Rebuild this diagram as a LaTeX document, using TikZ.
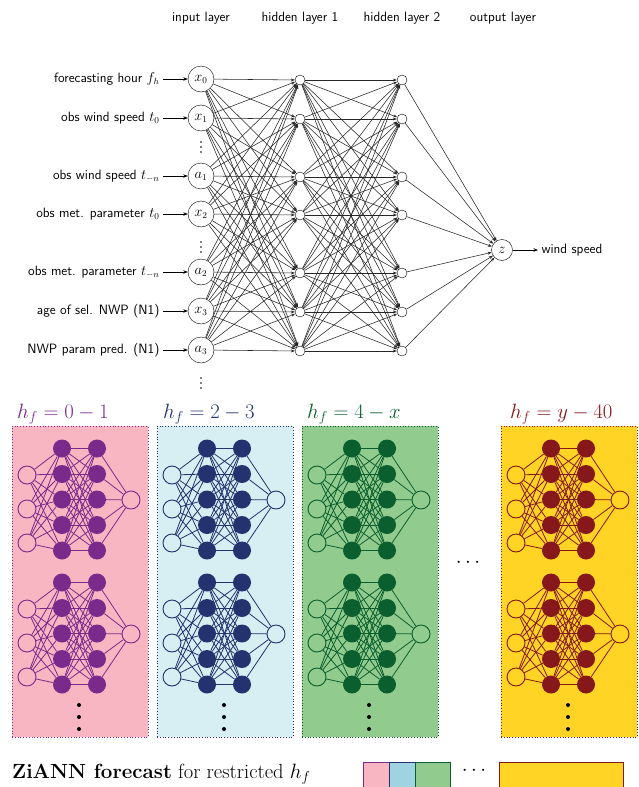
\documentclass[tikz,border=0pt]{standalone}
\usepackage{xcolor}
\usetikzlibrary{arrows.meta, positioning}

\definecolor{pinkbg}{HTML}{F8B6C2}
\definecolor{purplenet}{HTML}{7B2A8C}
\definecolor{bluebg}{HTML}{D7EEF2}
\definecolor{legblue}{HTML}{9FD3E1}
\definecolor{bluenet}{HTML}{24336F}
\definecolor{greenbg}{HTML}{92CB8E}
\definecolor{greennet}{HTML}{0B5F2F}
\definecolor{yellowbg}{HTML}{FFD424}
\definecolor{rednet}{HTML}{86171B}

\begin{document}
\begin{tikzpicture}[
    x=1pt, y=-1pt,
    font=\sffamily\fontsize{13.5}{16}\selectfont,
    inp/.style={draw, circle, minimum size=26pt, inner sep=0pt, fill=white},
    hid/.style={draw, circle, minimum size=10pt, inner sep=0pt, fill=white},
    outp/.style={draw, circle, minimum size=21pt, inner sep=0pt, fill=white},
    arrow/.style={-{Stealth[length=4.5pt, width=3.5pt]}, line width=0.6pt},
    link/.style={-{Stealth[length=4pt, width=3pt]}, line width=0.55pt, black!85},
    area/.style={dotted, line width=0.8pt, minimum width=136pt, minimum height=311pt, inner sep=0pt},
    title/.style={font=\fontsize{22}{26}\selectfont, inner sep=0pt, anchor=base west},
    smallin/.style={draw, circle, minimum size=18pt, inner sep=0pt, line width=0.9pt},
    smallhid/.style={circle, minimum size=18pt, inner sep=0pt},
    slink/.style={line width=0.8pt},
    legbox/.style={line width=1.4pt, anchor=north west, minimum height=26pt, inner sep=0pt}
]
    \useasboundingbox (0,0) rectangle (638,787);

    \node (hl0) at (201,18) {input layer};
    \node (hl1) at (300,18) {hidden layer 1};
    \node (hl2) at (402,18) {hidden layer 2};
    \node (hl3) at (503,18) {output layer};

    \foreach \v/\y/\t [count=\i] in {x_0/79/{forecasting hour $f_h$}, x_1/118/{obs wind speed $t_0$},
        a_1/176/{obs wind speed $t_{-n}$}, x_2/214/{obs met. parameter $t_0$},
        a_2/272/{obs met. parameter $t_{-n}$}, x_3/311/{age of sel. NWP (N1)},
        a_3/350/{NWP param pred. (N1)}} {
        \node[inp] (in\i) at (201,\y) {$\v$};
        \node[anchor=east] (lab\i) at (163,\y) {\t};
        \node[hid] (ha\i) at (300,\y+1) {};
        \node[hid] (hb\i) at (402,\y+1) {};
        \draw[arrow] (lab\i) -- (in\i);
    }
    \foreach \y in {147,247,383}
        \foreach \d in {-5,0,5}
            \fill (201,\y+\d) circle (0.8pt);

    \node[outp] (out) at (502,250) {$z$};
    \node[anchor=west] (ws) at (538,250) {wind speed};
    \draw[arrow] (out) -- (ws);

    \foreach \i in {1,...,7} {
        \foreach \j in {1,...,7} {
            \draw[link] (in\i) -- (ha\j);
            \draw[link] (ha\i) -- (hb\j);
        }
        \draw[link] (hb\i) -- (out);
    }

    \foreach \bx/\tx/\bg/\fg/\lbl [count=\b] in {12/17/pinkbg/purplenet/{0-1}, 157/163/bluebg/bluenet/{2-3},
        302/307/greenbg/greennet/{4-x}, 501/510/yellowbg/rednet/{y-40}} {
        \node[area, fill=\bg, draw=\fg] (box\b) at (\bx+68,581.5) {};
        \node[title, text=\fg] (title\b) at (\tx,418) {$h_f=\lbl$};
        \foreach \off [count=\c] in {0,134} {
            \foreach \k/\y in {1/475,2/509,3/543}
                \node[smallin, draw=\fg] (si\b\c\k) at (\bx+15,\y+\off) {};
            \foreach \k in {1,...,5} {
                \node[smallhid, fill=\fg] (sa\b\c\k) at (\bx+50,{423+25.5*\k+\off}) {};
                \node[smallhid, fill=\fg] (sb\b\c\k) at (\bx+85,{423+25.5*\k+\off}) {};
            }
            \node[smallin, draw=\fg] (so\b\c) at (\bx+119,500+\off) {};
            \foreach \k in {1,...,5} {
                \foreach \m in {1,2,3}
                    \draw[slink, draw=\fg] (si\b\c\m) -- (sa\b\c\k);
                \foreach \m in {1,...,5}
                    \draw[slink, draw=\fg] (sa\b\c\m) -- (sb\b\c\k);
                \draw[slink, draw=\fg] (sb\b\c\k) -- (so\b\c);
            }
        }
        \foreach \y in {705,717,729}
            \fill (\bx+67,\y) circle (2pt);
    }
    \node[title, anchor=center] (gap) at (468,563) {$\cdots$};

    \node[anchor=base west, inner sep=0pt, font=\rmfamily\fontsize{20.5}{24}\selectfont] (legend) at (12,778)
        {\textbf{ZiANN forecast} for restricted $h_f$};
    \node[legbox, fill=pinkbg, draw=purplenet, minimum width=26pt] (leg1) at (363,762) {};
    \node[legbox, fill=legblue, draw=bluenet, minimum width=26pt] (leg2) at (389,762) {};
    \node[legbox, fill=greenbg, draw=greennet, minimum width=35pt] (leg3) at (415,762) {};
    \node[title, anchor=center] (leggap) at (474,771) {$\cdots$};
    \node[legbox, fill=yellowbg, draw=rednet, minimum width=124pt] (leg4) at (499,762) {};
\end{tikzpicture}
\end{document}
